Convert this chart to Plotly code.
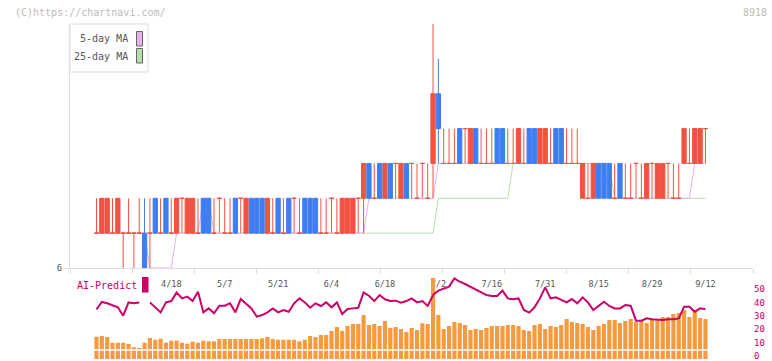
import plotly.graph_objects as go
import pandas as pd

# ---------------- data ----------------
holidays = ["2025-04-29", "2025-05-05", "2025-05-06", "2025-07-21", "2025-08-11"]
days = [d for d in pd.bdate_range("2025-03-31", "2025-09-12")
        if d.strftime("%Y-%m-%d") not in holidays]
dates = [f"{d.month}/{d.day}" for d in days]

open_ = [7, 7, 7, 7, 7, 7, 7, 7, 7, 7,
         7, 8, 7, 8, 7, 7, 8, 7, 7, 7,
         8, 8, 7, 8, 7, 7, 8, 8, 7, 8,
         8, 8, 7, 7, 8, 7, 8, 8, 7, 8,
         8, 8, 7, 7, 8, 7, 7, 7, 7, 8,
         8, 9, 8, 9, 8, 9, 9, 8, 9, 9,
         8, 9, 8, 9, 11, 9, 9, 9, 10, 10,
         9, 10, 9, 9, 9, 10, 10, 9, 9, 9,
         9, 10, 10, 9, 9, 9, 10, 10, 9, 9,
         9, 8, 8, 8, 9, 9, 9, 8, 9, 8,
         8, 9, 8, 8, 9, 8, 8, 9, 8, 8,
         9, 9, 9, 9, 10]
high = [8, 8, 8, 8, 8, 7, 8, 7, 8, 8,
        8, 8, 8, 8, 8, 8, 8, 8, 8, 8,
        8, 8, 8, 8, 8, 8, 8, 8, 8, 8,
        8, 8, 8, 8, 8, 8, 8, 8, 8, 8,
        8, 8, 8, 8, 8, 8, 8, 8, 8, 8,
        9, 9, 9, 9, 9, 9, 9, 9, 9, 9,
        9, 9, 9, 13, 12, 10, 10, 10, 10, 10,
        10, 10, 10, 10, 10, 10, 10, 10, 10, 10,
        10, 10, 10, 10, 10, 10, 10, 10, 10, 10,
        10, 9, 9, 9, 9, 9, 9, 9, 9, 9,
        9, 9, 9, 9, 9, 9, 9, 9, 9, 9,
        10, 10, 10, 10, 10]
low = [7, 7, 7, 7, 7, 6, 7, 6, 7, 6,
       6, 7, 7, 7, 7, 7, 7, 7, 7, 7,
       7, 7, 7, 7, 7, 7, 7, 7, 7, 7,
       7, 7, 7, 7, 7, 7, 7, 7, 7, 7,
       7, 7, 7, 7, 7, 7, 7, 7, 7, 7,
       7, 8, 8, 8, 8, 8, 8, 8, 8, 8,
       8, 8, 8, 8, 9, 9, 9, 9, 9, 9,
       9, 9, 9, 9, 9, 9, 9, 9, 9, 9,
       9, 9, 9, 9, 9, 9, 9, 9, 9, 9,
       9, 8, 8, 8, 8, 8, 8, 8, 8, 8,
       8, 8, 8, 8, 8, 8, 8, 8, 8, 8,
       9, 9, 9, 9, 9]
close = [7, 8, 8, 7, 8, 7, 7, 7, 7, 6,
         7, 7, 7, 7, 7, 8, 8, 8, 8, 7,
         7, 7, 7, 8, 7, 7, 7, 8, 8, 7,
         7, 7, 8, 7, 7, 7, 7, 8, 7, 7,
         7, 7, 7, 7, 8, 7, 8, 8, 8, 8,
         9, 8, 8, 8, 9, 8, 9, 9, 8, 9,
         8, 9, 8, 11, 10, 9, 9, 9, 9, 10,
         10, 9, 9, 9, 9, 9, 9, 9, 9, 10,
         9, 9, 9, 10, 10, 9, 9, 9, 9, 9,
         9, 9, 8, 9, 8, 8, 8, 8, 8, 8,
         8, 9, 8, 9, 9, 9, 9, 9, 8, 8,
         10, 9, 10, 10, 10]

ma5 = [7] * 10 + [6] * 5 + [7] * 5 + [8] * 2 + [7] * 29 + [8] * 13 + [9] * 32 + [8] * 16 + [9] * 3
ma25 = [7] * 64 + [8] * 14 + [9] * 19 + [8] * 18

ai_predict = [36.3, 41.8, 40.8, 39.5, 37.8, 31.5, 41.5, 40.8, 41.5, None,
              41.5, 37.5, 34.0, 41.5, 42.5, 49.0, 44.5, 45.8, 42.5, 49.5,
              34.0, 37.0, 33.3, 39.0, 39.0, 40.8, 34.0, 44.0, 40.8, 37.0,
              30.8, 32.0, 34.0, 37.0, 34.0, 35.8, 34.5, 40.8, 44.5, 41.5,
              37.5, 40.8, 38.8, 41.5, 37.8, 41.5, 32.8, 36.5, 37.0, 37.5,
              49.0, 46.5, 42.5, 47.0, 43.8, 42.5, 42.8, 41.3, 42.5, 44.5,
              41.5, 42.5, 38.8, 47.0, 50.3, 52.0, 53.3, 59.5, 57.0, 55.3,
              53.3, 51.3, 49.0, 47.0, 46.3, 46.3, 50.3, 44.5, 43.8, 44.5,
              35.8, 33.8, 37.8, 44.5, 52.8, 44.5, 45.3, 43.3, 41.5, 44.0,
              40.8, 45.3, 41.5, 35.8, 38.8, 42.0, 38.8, 37.0, 37.0, 39.5,
              39.0, 27.8, 27.8, 29.5, 28.8, 28.3, 28.3, 28.8, 28.8, 29.5,
              38.3, 38.3, 34.5, 37.0, 36.3]

volume = [22.3, 23, 22, 16.3, 16.3, 16.3, 15, 11.7, 11, 16.3,
          21, 19.3, 20.3, 16.3, 18.3, 18.3, 16.3, 15.3, 17.3, 16.3,
          18.3, 17.7, 17.7, 20, 20, 20, 20, 20, 20, 20,
          20, 20.7, 22, 20, 19.3, 19.3, 19.3, 19.3, 17.7, 19.3,
          23, 22, 24, 24, 28, 32, 28, 33, 35, 35,
          44, 34, 35, 33, 38, 31, 32, 30, 27, 31,
          29, 35.7, 35, 81, 44, 30, 33, 37, 36, 34,
          29, 30, 29, 31, 33, 33, 33, 34, 34, 33,
          29, 28, 34, 35, 30, 33, 32, 34, 40, 37,
          36, 35, 32, 29, 33, 35, 39, 39, 36, 38,
          40, 37, 39, 36, 39, 39, 42, 42, 45, 46,
          49, 42, 48, 41, 40]

price_ticks = [6]
label_idx = list(range(14, len(dates), 10))
label_text = [dates[i] for i in label_idx]
ai_ticks = [0, 10, 20, 30, 40, 50]

# ---------------- styling ----------------
W, H = 772, 361
RED = "#F25241"
BLUE = "#3F7DF2"
ORANGE = "#F59A3E"
MAGENTA = "#CC0066"
PINK = "#E8B0EE"
GREEN = "#B8DEA8"
GRID = "#DDDDDD"
TXT = "#555555"
FONT = "DejaVu Sans Mono"


def px(x):
    return x / W


def py(y):
    return 1 - y / H


x = list(range(len(dates)))
X_LO, X_HI = -4.96, 122.9
XDOM = [px(70), px(753)]
MAIN_DOM = [py(268), py(24)]

is_up = [c >= o for o, c in zip(open_, close)]


def pick(arr, cond):
    return [v if k else None for v, k in zip(arr, cond)]


fig = go.Figure()

# moving averages on the base price axis (drawn beneath the candle overlay)
fig.add_trace(go.Scatter(x=x, y=ma25, mode="lines", line=dict(color=GREEN, width=1),
                         hoverinfo="skip", xaxis="x", yaxis="y"))
fig.add_trace(go.Scatter(x=x, y=ma5, mode="lines", line=dict(color=PINK, width=1),
                         hoverinfo="skip", xaxis="x", yaxis="y"))

for cond, col in ((is_up, RED), ([not u for u in is_up], BLUE)):
    fig.add_trace(go.Candlestick(
        x=x, open=pick(open_, cond), high=pick(high, cond),
        low=pick(low, cond), close=pick(close, cond),
        increasing=dict(line=dict(color=col, width=1), fillcolor=col),
        decreasing=dict(line=dict(color=col, width=1), fillcolor=col),
        whiskerwidth=0, hoverinfo="skip", xaxis="x", yaxis="y4"))

# lower panel
fig.add_trace(go.Bar(x=x, y=volume, marker=dict(color=ORANGE, line=dict(width=0)),
                     hoverinfo="skip", xaxis="x2", yaxis="y2"))
fig.add_trace(go.Scatter(x=x, y=ai_predict, mode="lines", connectgaps=False,
                         line=dict(color=MAGENTA, width=2), hoverinfo="skip",
                         xaxis="x2", yaxis="y3"))

low_dom = [py(359), py(272)]
fig.update_layout(
    width=W, height=H, autosize=False,
    margin=dict(l=0, r=0, t=0, b=0, pad=0),
    paper_bgcolor="white", plot_bgcolor="white",
    showlegend=False,
    font=dict(family=FONT, size=10, color=TXT),
    boxgap=0.2, boxgroupgap=0, boxmode="overlay",
    bargap=0.22,
    xaxis=dict(domain=XDOM, range=[X_LO, X_HI], anchor="y", automargin=False,
               showgrid=False, zeroline=False, showline=True, linecolor=GRID, linewidth=1,
               ticks="outside", ticklen=5, tickcolor=GRID,
               tickmode="linear", tick0=X_LO, dtick=(X_HI - X_LO) / 11,
               showticklabels=False, rangeslider=dict(visible=False), fixedrange=True),
    yaxis=dict(domain=MAIN_DOM, range=[6, 13], anchor="x", automargin=False,
               showgrid=False, zeroline=False, showline=True, linecolor=GRID, linewidth=1,
               ticks="outside", ticklen=5, tickcolor=GRID,
               tickmode="array", tickvals=price_ticks, ticktext=[str(v) for v in price_ticks],
               tickfont=dict(size=9, color=TXT, family=FONT), fixedrange=True),
    yaxis4=dict(domain=MAIN_DOM, range=[6, 13], anchor="x", overlaying="y", visible=False,
                automargin=False, fixedrange=True),
    xaxis2=dict(domain=XDOM, range=[X_LO, X_HI], anchor="y2", side="top", automargin=False,
                showgrid=False, zeroline=False, showline=False, ticks="",
                tickmode="array", tickvals=label_idx, ticktext=label_text,
                ticklabelposition="inside", ticklabelstandoff=6, layer="below traces",
                tickfont=dict(size=8.5, color=TXT, family=FONT), fixedrange=True),
    yaxis2=dict(domain=low_dom, range=[0, 87], anchor="x2", visible=False, automargin=False,
                fixedrange=True),
    yaxis3=dict(domain=low_dom, range=[-0.98, 64.3], anchor="x2", overlaying="y2",
                side="right", showgrid=False, zeroline=False, showline=False, ticks="",
                automargin=False, ticklabeloverflow="allow", ticklabelshift=-2,
                tickmode="array", tickvals=ai_ticks, ticktext=[str(v) for v in ai_ticks],
                tickfont=dict(size=9, color=MAGENTA, family=FONT), fixedrange=True),
)

shapes = [
    # white separator through volume bars
    dict(type="line", xref="paper", yref="paper", x0=XDOM[0], x1=XDOM[1],
         y0=py(350), y1=py(350), line=dict(color="white", width=1.5), layer="above"),
    # legend box
    dict(type="rect", xref="paper", yref="paper", x0=px(70), x1=px(148), y0=py(72), y1=py(24),
         line=dict(color=GRID, width=1), fillcolor="white", layer="above"),
    dict(type="rect", xref="paper", yref="paper", x0=px(136.5), x1=px(142.5), y0=py(46), y1=py(31.5),
         line=dict(color="#666666", width=1), fillcolor=PINK, layer="above"),
    dict(type="rect", xref="paper", yref="paper", x0=px(136.5), x1=px(142.5), y0=py(63), y1=py(48.5),
         line=dict(color="#666666", width=1), fillcolor=GREEN, layer="above"),
    # AI-Predict swatch
    dict(type="rect", xref="paper", yref="paper", x0=px(142), x1=px(148.5), y0=py(292.5), y1=py(277),
         line=dict(width=0), fillcolor=MAGENTA, layer="above"),
]
fig.update_layout(shapes=shapes)

ann = [
    dict(text="(C)https://chartnavi.com/", x=px(13), y=py(12), xanchor="left", yanchor="middle",
         font=dict(size=10, color="#BBBBBB", family=FONT)),
    dict(text="8918", x=px(769), y=py(12), xanchor="right", yanchor="middle",
         font=dict(size=10, color="#BBBBBB", family=FONT)),
    dict(text="5-day MA", x=px(130), y=py(39), xanchor="right", yanchor="middle",
         font=dict(size=10, color=TXT, family=FONT)),
    dict(text="25-day MA", x=px(130), y=py(56.5), xanchor="right", yanchor="middle",
         font=dict(size=10, color=TXT, family=FONT)),
    dict(text="AI-Predict", x=px(75), y=py(285.5), xanchor="left", yanchor="middle",
         font=dict(size=10, color=MAGENTA, family=FONT)),
]
for a in ann:
    a.update(xref="paper", yref="paper", showarrow=False)
fig.update_layout(annotations=ann)

fig.write_html("out.html", config=dict(displayModeBar=False, staticPlot=True),
               post_script="document.body.style.margin='0';document.body.style.overflow='hidden';")
